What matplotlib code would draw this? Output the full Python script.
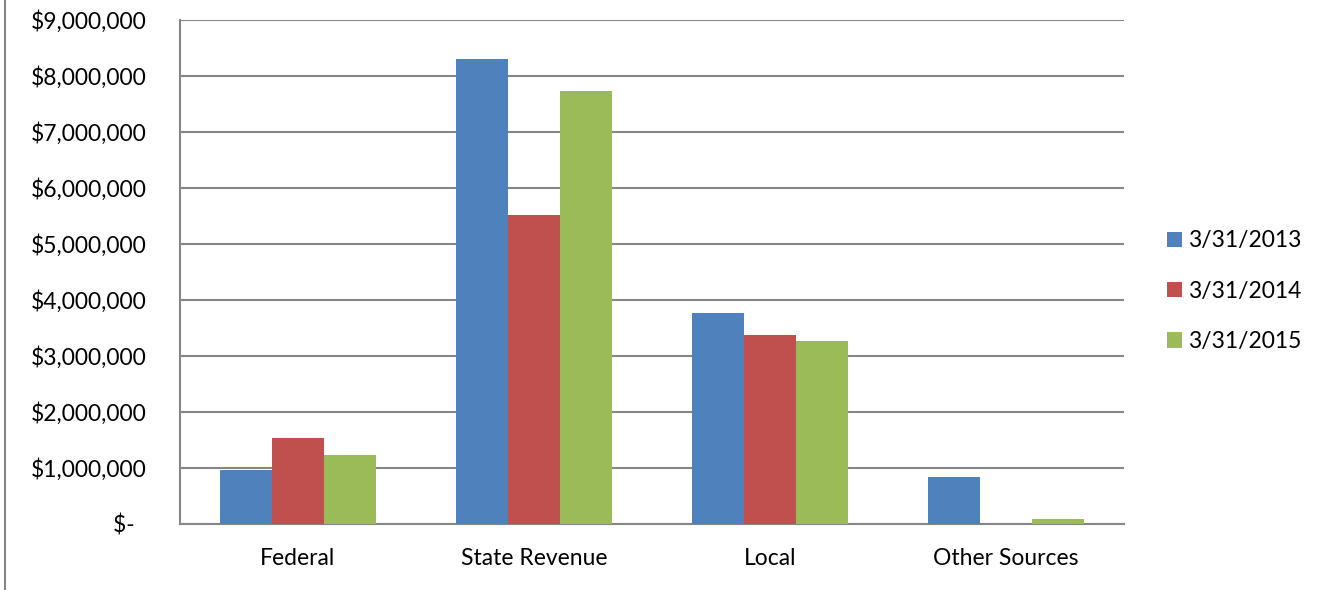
import numpy as np
import matplotlib.pyplot as plt
from matplotlib.ticker import FuncFormatter
from matplotlib.lines import Line2D

plt.rcParams['font.family'] = ['Lato', 'DejaVu Sans']

categories = ["Federal", "State Revenue", "Local", "Other Sources"]
series = ["3/31/2013", "3/31/2014", "3/31/2015"]
v2013 = [964000, 8300000, 3770000, 845000]
v2014 = [1536000, 5520000, 3375000, 0]
v2015 = [1227000, 7730000, 3260000, 90000]
colors = ["#4F81BD", "#C0504D", "#9BBB59"]

fig = plt.figure(figsize=(13.28, 5.9), dpi=100)
ax = fig.add_axes([0.1355, 0.1119, 0.7109, 0.8542])

x = np.arange(len(categories))
w = 0.22
for i, (vals, lab) in enumerate(zip([v2013, v2014, v2015], series)):
    ax.bar(x + (i - 1) * w, vals, w, color=colors[i], label=lab, zorder=3)

ax.set_xlim(-0.5, 3.5)
ax.set_ylim(0, 9000000)
ax.set_yticks(np.arange(0, 9000001, 1000000))


def fmt(v, pos):
    if v == 0:
        return "$-  "
    return "${:,.0f}".format(v)


ax.yaxis.set_major_formatter(FuncFormatter(fmt))
ax.set_xticks(x)
ax.set_xticklabels(categories)
ax.tick_params(axis='both', length=0, labelsize=16.5, colors='black')
ax.tick_params(axis='x', pad=17)
ax.tick_params(axis='y', pad=24)
ax.grid(axis='y', color='#868686', linewidth=1.5, zorder=0)
for s in ['top', 'right']:
    ax.spines[s].set_visible(False)
for s in ['left', 'bottom']:
    ax.spines[s].set_color('#868686')
    ax.spines[s].set_linewidth(1.5)

leg = ax.legend(loc='center left', bbox_to_anchor=(1.024, 0.462), frameon=False,
                fontsize=16.5, handlelength=0.65, handleheight=0.65,
                handletextpad=0.25, labelspacing=1.28)

fig.add_artist(Line2D([5 / 1328, 5 / 1328], [0.0, 1.0], color='#868686',
                      linewidth=1.5))

fig.savefig("out.png", dpi=100)
